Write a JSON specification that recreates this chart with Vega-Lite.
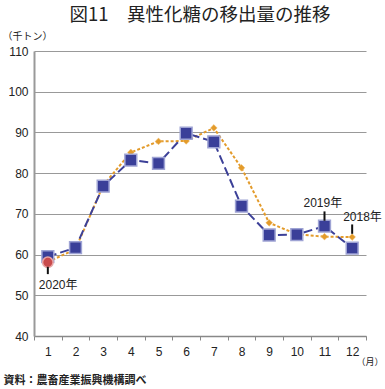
{
  "$schema": "https://vega.github.io/schema/vega-lite/v6.json",
  "width": 332,
  "height": 285,
  "autosize": "none",
  "padding": {"left": 34, "top": 51, "right": 19, "bottom": 53},
  "background": "white",
  "config": {
    "view": {"stroke": null},
    "font": "Liberation Sans, Noto Sans CJK JP",
    "axis": {"labelFont": "Liberation Sans, Noto Sans CJK JP", "titleFont": "Noto Sans CJK JP"}
  },
  "title": {
    "text": "図11　異性化糖の移出量の推移",
    "font": "Noto Sans CJK JP",
    "fontSize": 18.5,
    "fontWeight": "normal",
    "color": "#222222",
    "anchor": "middle",
    "offset": 7
  },
  "datasets": {
    "series": [
      {"month": 1, "year": "2018", "value": 58.2},
      {"month": 2, "year": "2018", "value": 61.3},
      {"month": 3, "year": "2018", "value": 77.0},
      {"month": 4, "year": "2018", "value": 85.1},
      {"month": 5, "year": "2018", "value": 87.8},
      {"month": 6, "year": "2018", "value": 87.9},
      {"month": 7, "year": "2018", "value": 91.1},
      {"month": 8, "year": "2018", "value": 81.3},
      {"month": 9, "year": "2018", "value": 67.8},
      {"month": 10, "year": "2018", "value": 65.0},
      {"month": 11, "year": "2018", "value": 64.4},
      {"month": 12, "year": "2018", "value": 64.3},
      {"month": 1, "year": "2019", "value": 59.5},
      {"month": 2, "year": "2019", "value": 61.7},
      {"month": 3, "year": "2019", "value": 76.8},
      {"month": 4, "year": "2019", "value": 83.2},
      {"month": 5, "year": "2019", "value": 82.4},
      {"month": 6, "year": "2019", "value": 89.8},
      {"month": 7, "year": "2019", "value": 87.7},
      {"month": 8, "year": "2019", "value": 71.9},
      {"month": 9, "year": "2019", "value": 64.8},
      {"month": 10, "year": "2019", "value": 64.9},
      {"month": 11, "year": "2019", "value": 67.0},
      {"month": 12, "year": "2019", "value": 61.6},
      {"month": 1, "year": "2020", "value": 58.1}
    ],
    "notes": [
      {"month": 1, "label": "2020年", "lineTop": 57.0, "lineBottom": 55.2, "labelY": 52.5},
      {"month": 11, "label": "2019年", "lineTop": 70.6, "lineBottom": 68.3, "labelY": 72.6},
      {"month": 12, "label": "2018年", "lineTop": 67.4, "lineBottom": 65.1, "labelY": 69.2}
    ]
  },
  "encoding": {
    "x": {
      "field": "month",
      "type": "ordinal",
      "scale": {"type": "band", "paddingInner": 0, "paddingOuter": 0, "domain": [1,2,3,4,5,6,7,8,9,10,11,12]}
    }
  },
  "layer": [
    {
      "encoding": {
        "x": {
          "field": "month",
          "type": "ordinal",
          "scale": {"type": "band", "paddingInner": 0, "paddingOuter": 0, "domain": [1,2,3,4,5,6,7,8,9,10,11,12]},
          "axis": {
            "title": "（月）",
            "titleFontSize": 9,
            "titleFontWeight": "normal",
            "titleColor": "#222222",
            "titleAngle": 0,
            "titleAlign": "left",
            "titleBaseline": "middle",
            "titleX": 322,
            "titleY": 25,
            "labelAngle": 0,
            "labelFontSize": 12,
            "labelColor": "#222222",
            "labelPadding": 6,
            "tickBand": "extent",
            "tickColor": "#888888",
            "tickSize": 4,
            "domainColor": "#888888",
            "domainWidth": 1.5,
            "grid": false
          }
        },
        "y": {
          "field": "value",
          "type": "quantitative",
          "scale": {"domain": [40, 110], "zero": false, "nice": false},
          "axis": {
            "values": [40, 50, 60, 70, 80, 90, 100, 110],
            "title": "（千トン）",
            "titleFontSize": 10,
            "titleFontWeight": "normal",
            "titleColor": "#222222",
            "titleAngle": 0,
            "titleAlign": "left",
            "titleBaseline": "middle",
            "titleX": -32,
            "titleY": -15,
            "labelFontSize": 12,
            "labelColor": "#222222",
            "labelPadding": 6,
            "ticks": false,
            "domainColor": "#999999",
            "domainWidth": 2,
            "grid": true,
            "gridColor": "#999999",
            "gridWidth": 1
          }
        }
      },
      "layer": [
        {
          "data": {"name": "series"},
          "transform": [{"filter": "datum.year === '2018'"}],
          "mark": {"type": "line", "color": "#E39B2B", "strokeWidth": 2, "strokeDash": [3, 2]}
        },
        {
          "data": {"name": "series"},
          "transform": [{"filter": "datum.year === '2018'"}],
          "mark": {"type": "point", "shape": "diamond", "filled": true, "fill": "#E39B2B", "stroke": "#F2C070", "strokeWidth": 0.5, "size": 45, "opacity": 1}
        },
        {
          "data": {"name": "series"},
          "transform": [{"filter": "datum.year === '2019'"}],
          "mark": {"type": "line", "color": "#3C4098", "strokeWidth": 2, "strokeDash": [9, 4]}
        },
        {
          "data": {"name": "series"},
          "transform": [{"filter": "datum.year === '2019'"}],
          "mark": {"type": "point", "shape": "square", "filled": true, "fill": "#3A3F99", "stroke": "#9EA3D4", "strokeWidth": 1.5, "size": 140, "opacity": 1}
        },
        {
          "data": {"name": "series"},
          "transform": [{"filter": "datum.year === '2020'"}],
          "mark": {"type": "point", "shape": "circle", "filled": true, "fill": "#C94A4C", "stroke": "#E8A5A5", "strokeWidth": 1.5, "size": 110, "opacity": 1}
        },
        {
          "data": {"name": "notes"},
          "mark": {"type": "rule", "color": "#111111", "strokeWidth": 2},
          "encoding": {
            "y": {"field": "lineTop", "type": "quantitative"},
            "y2": {"field": "lineBottom"}
          }
        }
      ]
    },
    {
      "data": {"name": "notes"},
      "encoding": {
        "y": {
          "field": "labelY",
          "type": "quantitative",
          "scale": {"domain": [40, 110], "zero": false, "nice": false},
          "axis": {
            "orient": "right",
            "title": "資料：農畜産業振興機構調べ",
            "titleFont": "Noto Sans CJK JP",
            "titleFontSize": 11,
            "titleFontWeight": "bold",
            "titleColor": "#222222",
            "titleAngle": 0,
            "titleAlign": "left",
            "titleBaseline": "middle",
            "titleX": -363,
            "titleY": 329,
            "labels": false,
            "ticks": false,
            "domain": false,
            "grid": false
          }
        },
        "text": {"field": "label"}
      },
      "layer": [
        {
          "transform": [{"filter": "datum.month !== 11"}],
          "mark": {"type": "text", "align": "left", "baseline": "middle", "dx": -9, "fontSize": 12, "color": "#222222", "font": "Liberation Sans, Noto Sans CJK JP"}
        },
        {
          "transform": [{"filter": "datum.month === 11"}],
          "mark": {"type": "text", "align": "left", "baseline": "middle", "dx": -21, "fontSize": 12, "color": "#222222", "font": "Liberation Sans, Noto Sans CJK JP"}
        }
      ]
    }
  ],
  "resolve": {"scale": {"y": "independent"}, "axis": {"y": "independent"}}
}
